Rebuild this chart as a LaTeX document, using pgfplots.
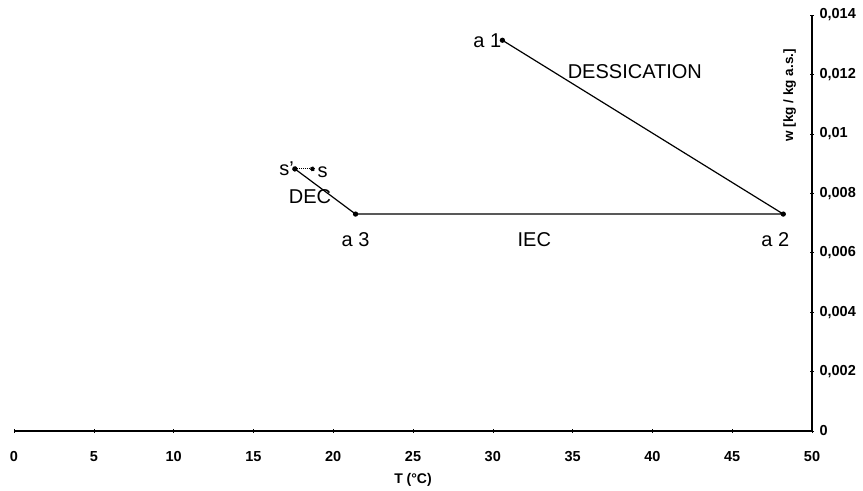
\documentclass[border=0pt]{standalone}
\usepackage{fontspec}
\setmainfont{Liberation Sans}
\usepackage{pgfplots}
\pgfplotsset{compat=1.18}
\begin{document}
\begin{tikzpicture}
\begin{axis}[
  scale only axis,
  width=798pt, height=416pt,
  xmin=0, xmax=50, ymin=0, ymax=0.014,
  axis x line=bottom, axis y line=right,
  axis line style={-, line width=1.2pt},
  xtick={0,5,...,50},
  ytick={0,0.002,0.004,0.006,0.008,0.01,0.012,0.014},
  yticklabels={0,{0,002},{0,004},{0,006},{0,008},{0,01},{0,012},{0,014}},
  scaled y ticks=false,
  tick align=center,
  major tick length=4pt,
  tick style={black, line width=0.6pt},
  tick label style={font=\fontsize{14.5}{16}\selectfont\bfseries},
  /pgf/number format/assume math mode=true,
  xticklabel style={yshift=-15pt},
  yticklabel style={xshift=2pt},
  xlabel={T (°C)},
  xlabel style={font=\fontsize{14}{16}\selectfont\bfseries, yshift=-5pt},
  clip=false,
]
\addplot[black, line width=1.2pt, mark=*, mark size=2pt] coordinates {
  (30.6,0.01315) (48.2,0.0073) (21.4,0.0073) (17.6,0.00882)
};
\addplot[black, line width=1pt, densely dotted, mark=*, mark size=2pt] coordinates {
  (17.6,0.00882) (18.7,0.00882)
};
\node[anchor=east, font=\fontsize{20}{22}\selectfont, inner sep=1pt] at (axis cs:30.6,0.01315) {a 1};
\node[font=\fontsize{20}{22}\selectfont] at (axis cs:38.9,0.01208) {DESSICATION};
\node[anchor=east, font=\fontsize{20}{22}\selectfont, inner sep=1pt] at (axis cs:17.6,0.00882) {s'};
\node[anchor=west, font=\fontsize{20}{22}\selectfont, inner sep=5pt] at (axis cs:18.7,0.00872) {s};
\node[font=\fontsize{20}{22}\selectfont] at (axis cs:18.55,0.00788) {DEC};
\node[font=\fontsize{20}{22}\selectfont] at (axis cs:21.4,0.00643) {a 3};
\node[font=\fontsize{20}{22}\selectfont] at (axis cs:32.6,0.00643) {IEC};
\node[font=\fontsize{20}{22}\selectfont] at (axis cs:47.7,0.00643) {a 2};
\node[rotate=90, font=\fontsize{13.5}{15}\selectfont\bfseries] at (axis cs:48.6,0.0113) {w [kg / kg a.s.]};
\end{axis}
\path ([xshift=-14pt,yshift=-60pt]current axis.south west) rectangle ([xshift=51pt,yshift=15pt]current axis.north east);
\end{tikzpicture}
\end{document}
